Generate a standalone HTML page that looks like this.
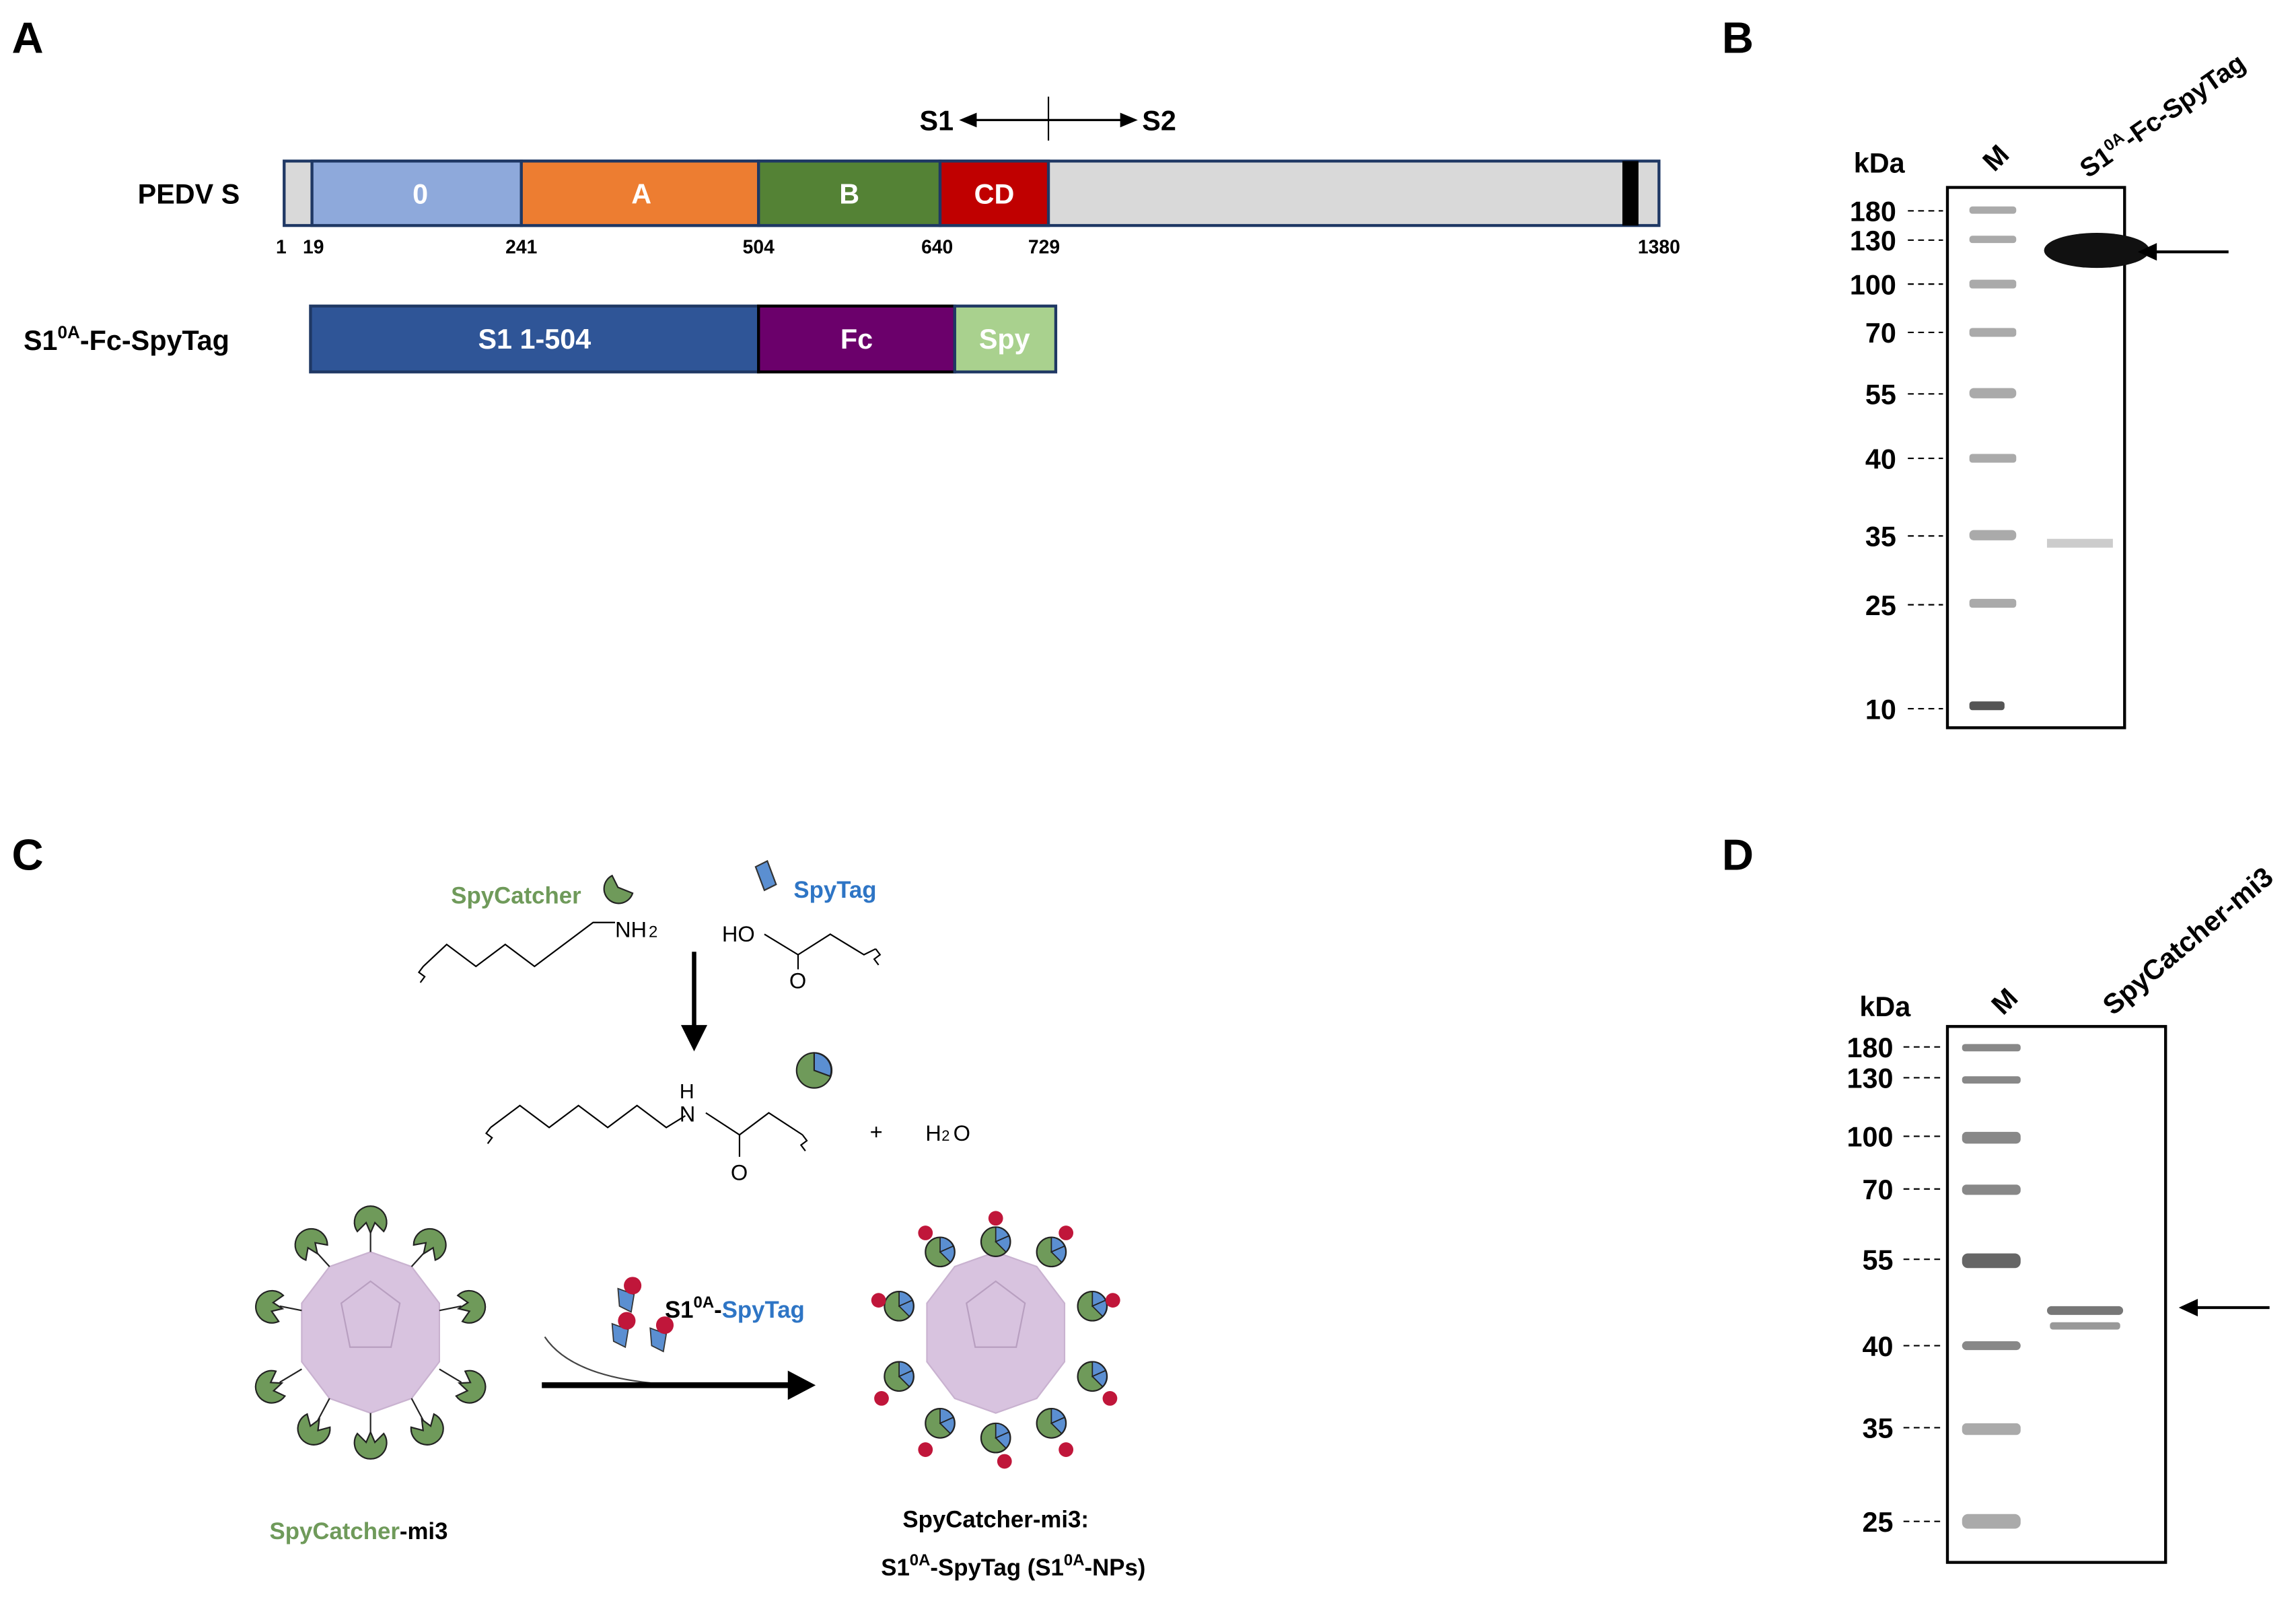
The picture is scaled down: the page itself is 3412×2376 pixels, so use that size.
<!DOCTYPE html>
<html><head><meta charset="utf-8"><style>html,body{margin:0;padding:0;background:#fff}svg{display:block}text{font-family:"Liberation Sans",sans-serif}</style></head>
<body>
<svg width="3412" height="2376" viewBox="0 0 1568 1092" xmlns="http://www.w3.org/2000/svg">
<defs>
<g id="cat"><path d="M-9,-9 A11,11 0 1 0 9,-9 L3,-3 L0,-10 L-3,-3 Z" fill="#6f9a5a" stroke="#222" stroke-width="1"/></g>
<g id="cpl"><circle r="10" fill="#6f9a5a" stroke="#222" stroke-width="1"/><path d="M0,0 L0,-10 A10,10 0 0 1 9,-4 Z" fill="#5b8fd1" stroke="#222" stroke-width="0.8"/><path d="M0,0 L9,-4 A10,10 0 0 1 7,7 Z" fill="#5b8fd1" stroke="#222" stroke-width="0.8"/></g>
<g id="tag"><path d="M-6,-8 L5,-4 L3,8 L-5,4 Z" fill="#5b8fd1" stroke="#333" stroke-width="0.8"/><circle cx="4" cy="-10" r="6" fill="#c0163a"/></g>
<g id="np"><polygon points="0,-55 28,-45 47,-20 47,20 28,45 0,55 -28,45 -47,20 -47,-20 -28,-45" fill="#d8c3df" stroke="#c9b2d0"/><polygon points="0,-35 20,-20 14,10 -14,10 -20,-20" fill="none" stroke="#b89fc0" stroke-width="1"/></g>
</defs>
<g font-weight="bold" font-size="30" fill="#000"><text x="8" y="36">A</text><text x="1176" y="36">B</text><text x="8" y="594">C</text><text x="1176" y="594">D</text></g>
<!-- A -->
<text x="94" y="139" font-size="19" font-weight="bold">PEDV S</text>
<line x1="657" y1="82" x2="775" y2="82" stroke="#000" stroke-width="1.5"/><polygon points="655,82 667,77 667,87"/><polygon points="777,82 765,77 765,87"/><line x1="716" y1="66" x2="716" y2="96" stroke="#000"/>
<text x="628" y="89" font-size="19" font-weight="bold">S1</text><text x="780" y="89" font-size="19" font-weight="bold">S2</text>
<g stroke="#1f3864" stroke-width="2">
<rect x="194" y="110" width="939" height="44" fill="#d9d9d9"/>
<rect x="213" y="110" width="143" height="44" fill="#8ea9db"/>
<rect x="356" y="110" width="162" height="44" fill="#ed7d31"/>
<rect x="518" y="110" width="124" height="44" fill="#548235"/>
<rect x="642" y="110" width="74" height="44" fill="#c00000"/>
</g>
<rect x="1108" y="110" width="11" height="44" fill="#000"/>
<g font-size="19" font-weight="bold" fill="#fff" text-anchor="middle"><text x="287" y="139">0</text><text x="438" y="139">A</text><text x="580" y="139">B</text><text x="679" y="139">CD</text></g>
<g font-size="13" font-weight="bold" text-anchor="middle"><text x="192" y="173">1</text><text x="214" y="173">19</text><text x="356" y="173">241</text><text x="518" y="173">504</text><text x="640" y="173">640</text><text x="713" y="173">729</text><text x="1133" y="173">1380</text></g>
<text x="16" y="239" font-size="19" font-weight="bold">S1<tspan font-size="12" dy="-8">0A</tspan><tspan dy="8">-Fc-SpyTag</tspan></text>
<g stroke="#1f3864" stroke-width="2">
<rect x="212" y="209" width="306" height="45" fill="#2f5597"/>
<rect x="518" y="209" width="134" height="45" fill="#6b006b" stroke="#000"/>
<rect x="652" y="209" width="69" height="45" fill="#a9d18e"/>
</g>
<g font-size="19" font-weight="bold" fill="#fff" text-anchor="middle"><text x="365" y="238">S1 1-504</text><text x="585" y="238">Fc</text><text x="686" y="238">Spy</text></g>
<!-- B -->
<text x="1266" y="118" font-size="19" font-weight="bold">kDa</text>
<text x="1362" y="118" font-size="19" font-weight="bold" transform="rotate(-45 1362 118)">M</text>
<text x="1426" y="122" font-size="18" font-weight="bold" transform="rotate(-35 1426 122)">S1<tspan font-size="11" dy="-7">0A</tspan><tspan dy="7">-Fc-SpyTag</tspan></text>
<rect x="1330" y="128" width="121" height="369" fill="#fff" stroke="#000" stroke-width="2"/>
<g font-size="19" font-weight="bold" text-anchor="end">
<text x="1295" y="151">180</text><text x="1295" y="171">130</text><text x="1295" y="201">100</text><text x="1295" y="234">70</text><text x="1295" y="276">55</text><text x="1295" y="320">40</text><text x="1295" y="373">35</text><text x="1295" y="420">25</text><text x="1295" y="491">10</text></g>
<g stroke="#000" stroke-dasharray="4,3"><line x1="1303" y1="144" x2="1327" y2="144"/><line x1="1303" y1="164" x2="1327" y2="164"/><line x1="1303" y1="194" x2="1327" y2="194"/><line x1="1303" y1="227" x2="1327" y2="227"/><line x1="1303" y1="269" x2="1327" y2="269"/><line x1="1303" y1="313" x2="1327" y2="313"/><line x1="1303" y1="366" x2="1327" y2="366"/><line x1="1303" y1="413" x2="1327" y2="413"/><line x1="1303" y1="484" x2="1327" y2="484"/></g>
<g fill="#aaa"><rect x="1345" y="141" width="32" height="5" rx="2"/><rect x="1345" y="161" width="32" height="5" rx="2"/><rect x="1345" y="191" width="32" height="6" rx="2"/><rect x="1345" y="224" width="32" height="6" rx="2"/><rect x="1345" y="265" width="32" height="7" rx="3"/><rect x="1345" y="310" width="32" height="6" rx="2"/><rect x="1345" y="362" width="32" height="7" rx="3"/><rect x="1345" y="409" width="32" height="6" rx="2"/><rect x="1345" y="479" width="24" height="6" rx="2" fill="#555"/></g>
<ellipse cx="1432" cy="171" rx="36" ry="12" fill="#111"/>
<rect x="1398" y="368" width="45" height="6" fill="#ccc"/>
<line x1="1462" y1="172" x2="1522" y2="172" stroke="#000" stroke-width="2"/><polygon points="1460,172 1473,166 1473,178"/>
<!-- D -->
<text x="1270" y="694" font-size="19" font-weight="bold">kDa</text>
<text x="1368" y="694" font-size="19" font-weight="bold" transform="rotate(-45 1368 694)">M</text>
<text x="1443" y="694" font-size="19" font-weight="bold" transform="rotate(-40 1443 694)">SpyCatcher-mi3</text>
<rect x="1330" y="701" width="149" height="366" fill="#fff" stroke="#000" stroke-width="2"/>
<g font-size="19" font-weight="bold" text-anchor="end">
<text x="1293" y="722">180</text><text x="1293" y="743">130</text><text x="1293" y="783">100</text><text x="1293" y="819">70</text><text x="1293" y="867">55</text><text x="1293" y="926">40</text><text x="1293" y="982">35</text><text x="1293" y="1046">25</text></g>
<g stroke="#000" stroke-dasharray="4,3"><line x1="1300" y1="715" x2="1326" y2="715"/><line x1="1300" y1="736" x2="1326" y2="736"/><line x1="1300" y1="776" x2="1326" y2="776"/><line x1="1300" y1="812" x2="1326" y2="812"/><line x1="1300" y1="860" x2="1326" y2="860"/><line x1="1300" y1="919" x2="1326" y2="919"/><line x1="1300" y1="975" x2="1326" y2="975"/><line x1="1300" y1="1039" x2="1326" y2="1039"/></g>
<g fill="#888"><rect x="1340" y="713" width="40" height="5" rx="2"/><rect x="1340" y="735" width="40" height="5" rx="2"/><rect x="1340" y="773" width="40" height="8" rx="3"/><rect x="1340" y="809" width="40" height="7" rx="3"/><rect x="1340" y="856" width="40" height="10" rx="4" fill="#666"/><rect x="1340" y="916" width="40" height="6" rx="3"/><rect x="1340" y="972" width="40" height="8" rx="3" fill="#aaa"/><rect x="1340" y="1034" width="40" height="10" rx="4" fill="#aaa"/></g>
<rect x="1398" y="892" width="52" height="6" rx="3" fill="#777"/><rect x="1400" y="903" width="48" height="5" rx="2" fill="#999"/>
<line x1="1490" y1="893" x2="1550" y2="893" stroke="#000" stroke-width="2"/><polygon points="1488,893 1501,887 1501,899"/>
<!-- C chemistry -->
<text x="308" y="617" font-size="16" font-weight="bold" fill="#6f9a5a">SpyCatcher</text>
<path d="M418,598 A10,10 0 1 0 432,610 L422,606 Z" fill="#6f9a5a" stroke="#222"/>
<path d="M516,592 L524,588 L530,604 L522,608 Z" fill="#5b8fd1" stroke="#333"/>
<text x="542" y="613" font-size="16" font-weight="bold" fill="#2e75c5">SpyTag</text>
<polyline points="289,660 305,645 325,660 345,645 365,660 385,645 405,630 420,630" fill="none" stroke="#000"/>
<text x="420" y="640" font-size="15">NH</text><text x="443" y="640" font-size="11">2</text>
<text x="493" y="643" font-size="15">HO</text>
<polyline points="522,638 545,652 567,638 590,652 598,648" fill="none" stroke="#000"/><line x1="545" y1="652" x2="545" y2="662" stroke="#000"/><text x="539" y="675" font-size="15">O</text>
<path d="M289,660 l-3,4 l4,3 l-3,4" fill="none" stroke="#000"/><path d="M598,648 l3,4 l-4,3 l3,4" fill="none" stroke="#000"/>
<line x1="474" y1="650" x2="474" y2="705" stroke="#000" stroke-width="3"/><polygon points="465,700 483,700 474,718"/>
<circle cx="556" cy="731" r="12" fill="#6f9a5a" stroke="#222"/><path d="M556,731 L556,719 A12,12 0 0 1 567,735 Z" fill="#5b8fd1" stroke="#222"/>
<polyline points="335,770 355,755 375,770 395,755 415,770 435,755 455,770 468,762" fill="none" stroke="#000"/>
<text x="464" y="750" font-size="14">H</text><text x="464" y="766" font-size="15">N</text>
<polyline points="482,760 505,775 525,760 548,775" fill="none" stroke="#000"/><line x1="505" y1="775" x2="505" y2="790" stroke="#000"/><text x="499" y="806" font-size="15">O</text>
<path d="M335,770 l-3,4 l4,3 l-3,4" fill="none" stroke="#000"/><path d="M548,775 l3,4 l-4,3 l3,4" fill="none" stroke="#000"/>
<text x="594" y="778" font-size="15">+</text><text x="632" y="779" font-size="15">H</text><text x="643" y="779" font-size="10">2</text><text x="651" y="779" font-size="15">O</text>
<!-- particle 1 -->
<g transform="translate(253,910)"><use href="#np"/>
<g stroke="#222"><line x1="0" y1="-55" x2="0" y2="-72"/><line x1="0" y1="55" x2="0" y2="72"/><line x1="-28" y1="-45" x2="-38" y2="-56"/><line x1="28" y1="-45" x2="38" y2="-56"/><line x1="-47" y1="-15" x2="-62" y2="-18"/><line x1="47" y1="-15" x2="62" y2="-18"/><line x1="-47" y1="25" x2="-62" y2="34"/><line x1="47" y1="25" x2="62" y2="34"/><line x1="-28" y1="45" x2="-36" y2="60"/><line x1="28" y1="45" x2="36" y2="60"/></g>
<use href="#cat" transform="translate(0,-78) rotate(180)"/>
<use href="#cat" transform="translate(0,78)"/>
<use href="#cat" transform="translate(-42,-62) rotate(145)"/><use href="#cat" transform="translate(42,-62) rotate(215)"/>
<use href="#cat" transform="translate(-70,-18) rotate(100)"/><use href="#cat" transform="translate(70,-18) rotate(260)"/>
<use href="#cat" transform="translate(-70,38) rotate(70)"/><use href="#cat" transform="translate(70,38) rotate(290)"/>
<use href="#cat" transform="translate(-40,68) rotate(30)"/><use href="#cat" transform="translate(40,68) rotate(330)"/>
</g>
<text x="184" y="1051" font-size="16" font-weight="bold" fill="#6f9a5a">SpyCatcher<tspan fill="#000">-mi3</tspan></text>
<!-- arrow -->
<path d="M372,913 Q390,940 450,945" fill="none" stroke="#444"/>
<line x1="370" y1="946" x2="540" y2="946" stroke="#000" stroke-width="4"/><polygon points="538,936 557,946 538,956"/>
<use href="#tag" transform="translate(428,888)"/><use href="#tag" transform="translate(424,912)"/><use href="#tag" transform="translate(450,915)"/>
<text x="454" y="900" font-size="16" font-weight="bold">S1<tspan font-size="11" dy="-7">0A</tspan><tspan dy="7">-</tspan><tspan fill="#2e75c5">SpyTag</tspan></text>
<!-- particle 2 -->
<g transform="translate(680,910)"><use href="#np"/>
<use href="#cpl" transform="translate(0,-62)"/><use href="#cpl" transform="translate(0,72)"/>
<use href="#cpl" transform="translate(-38,-55)"/><use href="#cpl" transform="translate(38,-55)"/>
<use href="#cpl" transform="translate(-66,-18)"/><use href="#cpl" transform="translate(66,-18)"/>
<use href="#cpl" transform="translate(-66,30)"/><use href="#cpl" transform="translate(66,30)"/>
<use href="#cpl" transform="translate(-38,62)"/><use href="#cpl" transform="translate(38,62)"/>
<g fill="#c0163a"><circle cx="0" cy="-78" r="5"/><circle cx="-48" cy="-68" r="5"/><circle cx="48" cy="-68" r="5"/><circle cx="-80" cy="-22" r="5"/><circle cx="80" cy="-22" r="5"/><circle cx="-78" cy="45" r="5"/><circle cx="78" cy="45" r="5"/><circle cx="-48" cy="80" r="5"/><circle cx="48" cy="80" r="5"/><circle cx="6" cy="88" r="5"/></g>
</g>
<text x="680" y="1043" font-size="16" font-weight="bold" text-anchor="middle">SpyCatcher-mi3:</text>
<text x="692" y="1076" font-size="16" font-weight="bold" text-anchor="middle">S1<tspan font-size="11" dy="-7">0A</tspan><tspan dy="7">-SpyTag (S1</tspan><tspan font-size="11" dy="-7">0A</tspan><tspan dy="7">-NPs)</tspan></text>
</svg>
</body></html>
